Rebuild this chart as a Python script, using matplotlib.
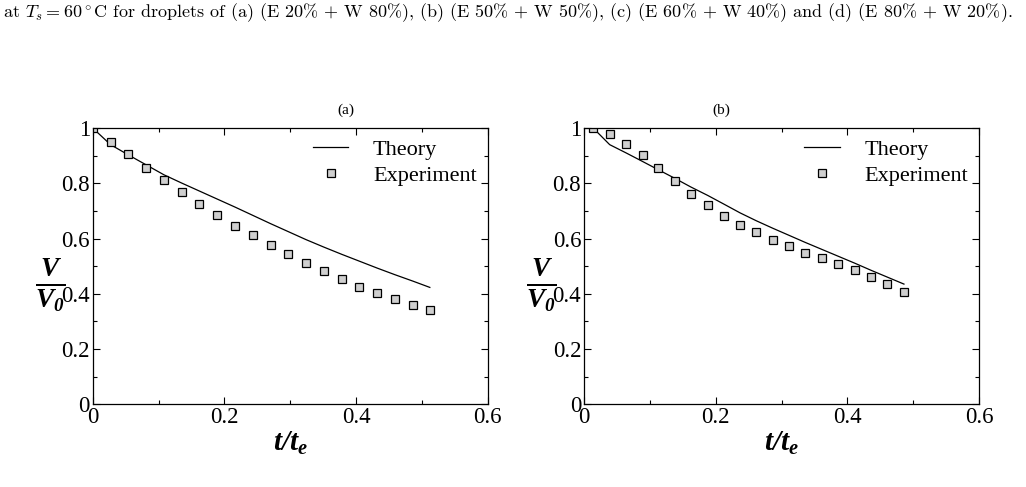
import matplotlib
matplotlib.use('Agg')
import matplotlib.pyplot as plt
from matplotlib.ticker import MultipleLocator

plt.rcParams['font.family'] = 'Liberation Serif'
plt.rcParams['mathtext.fontset'] = 'custom'
plt.rcParams['mathtext.rm'] = 'Liberation Serif:bold:italic'
plt.rcParams['mathtext.it'] = 'Liberation Serif:bold:italic'
plt.rcParams['mathtext.bf'] = 'Liberation Serif:bold:italic'

# (a) E 20% + W 80%
t_exp_a = [0.001, 0.027, 0.054, 0.081, 0.108, 0.135, 0.162, 0.189, 0.216, 0.243,
           0.270, 0.297, 0.324, 0.351, 0.378, 0.405, 0.432, 0.459, 0.486, 0.512]
v_exp_a = [1.000, 0.948, 0.905, 0.854, 0.812, 0.767, 0.726, 0.685, 0.646, 0.611,
           0.575, 0.543, 0.511, 0.483, 0.454, 0.426, 0.403, 0.380, 0.360, 0.342]
t_th_a = [0.0, 0.027, 0.054, 0.081, 0.108, 0.135, 0.162, 0.189, 0.216, 0.243,
          0.270, 0.297, 0.324, 0.351, 0.378, 0.405, 0.432, 0.459, 0.486, 0.512]
v_th_a = [1.000, 0.940, 0.903, 0.867, 0.831, 0.801, 0.772, 0.743, 0.714, 0.684,
          0.654, 0.625, 0.596, 0.569, 0.543, 0.518, 0.493, 0.469, 0.446, 0.423]

# (b) E 50% + W 50%
t_exp_b = [0.014, 0.039, 0.064, 0.089, 0.113, 0.138, 0.162, 0.188, 0.213, 0.237,
           0.262, 0.287, 0.312, 0.336, 0.361, 0.386, 0.411, 0.436, 0.461, 0.486]
v_exp_b = [1.000, 0.979, 0.943, 0.901, 0.855, 0.808, 0.763, 0.723, 0.682, 0.650,
           0.622, 0.595, 0.572, 0.549, 0.529, 0.508, 0.486, 0.461, 0.437, 0.407]
t_th_b = [0.014, 0.039, 0.064, 0.089, 0.113, 0.138, 0.162, 0.188, 0.213, 0.237,
          0.262, 0.287, 0.312, 0.336, 0.361, 0.386, 0.411, 0.436, 0.461, 0.486]
v_th_b = [1.000, 0.940, 0.910, 0.879, 0.849, 0.818, 0.787, 0.756, 0.724, 0.693,
          0.664, 0.637, 0.611, 0.586, 0.561, 0.536, 0.511, 0.485, 0.460, 0.435]

x_ticks = [0, 0.2, 0.4, 0.6]
x_tick_labels = ['0', '0.2', '0.4', '0.6']
y_ticks = [0, 0.2, 0.4, 0.6, 0.8, 1.0]
y_tick_labels = ['0', '0.2', '0.4', '0.6', '0.8', '1']

caption = (r'at $T_s = 60^\circ$C for droplets of (a) (E 20% + W 80%), '
           '(b) (E 50% + W 50%), (c) (E 60% + W 40%) and (d) (E 80% + W 20%).')

fig = plt.figure(figsize=(10.26, 4.87), dpi=100)
fig.text(0.003, 0.965, caption, fontsize=13, family='cmr10',
         math_fontfamily='cm', va='baseline')

panels = [
    (0.0904, t_th_a, v_th_a, t_exp_a, v_exp_a, '(a)', 0.64),
    (0.5692, t_th_b, v_th_b, t_exp_b, v_exp_b, '(b)', 0.347),
]

for left, tt, vt, te, ve, tag, tag_x in panels:
    ax = fig.add_axes([left, 0.170, 0.385, 0.567])
    ax.plot(tt, vt, color='black', lw=0.9, label='Theory')
    ax.plot(te, ve, ls='none', marker='s', ms=5.5, mfc='#cfcfcf', mec='black',
            mew=0.9, label='Experiment')
    ax.set_xlim(0, 0.6)
    ax.set_ylim(0, 1)
    ax.set_xticks(x_ticks)
    ax.set_xticklabels(x_tick_labels)
    ax.set_yticks(y_ticks)
    ax.set_yticklabels(y_tick_labels)
    ax.xaxis.set_minor_locator(MultipleLocator(0.1))
    ax.yaxis.set_minor_locator(MultipleLocator(0.1))
    ax.tick_params(which='both', direction='in', top=True, right=True,
                   labelsize=16.5, width=0.8)
    ax.tick_params(which='major', length=5, pad=2)
    ax.tick_params(which='minor', length=3)
    for s in ax.spines.values():
        s.set_linewidth(0.9)
    ax.set_xlabel(r'$t/t_e$', fontsize=21, labelpad=1)
    ax.set_ylabel(r'$\frac{V}{V_0}$', fontsize=28, rotation=0, va='center')
    ax.yaxis.set_label_coords(-0.108, 0.43)
    ax.text(tag_x, 1.05, tag, transform=ax.transAxes, fontsize=11, ha='center')
    ax.legend(loc='upper right', frameon=False, fontsize=16, handlelength=1.6,
              handletextpad=1.1, labelspacing=0.25, borderaxespad=0.1)

fig.savefig('out.png', dpi=100)
